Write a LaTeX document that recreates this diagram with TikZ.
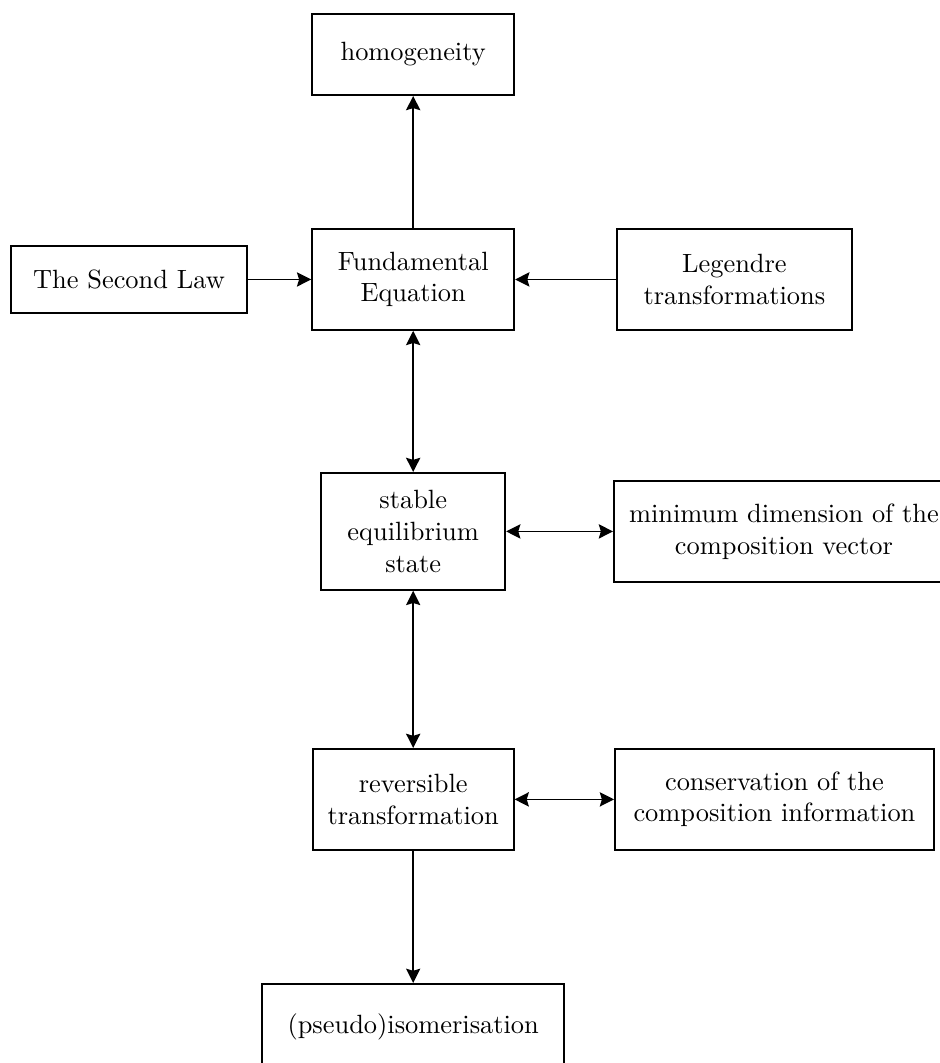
\documentclass[tikz,border=0pt]{standalone}
\usetikzlibrary{arrows.meta}

\begin{document}
\begin{tikzpicture}[
  box/.style={rectangle, draw=black, line width=0.7pt, align=center, inner sep=0pt},
  link/.style={line width=0.6pt, -{Stealth[length=5.4pt,width=5.4pt,inset=0.8pt]}},
  twoway/.style={line width=0.6pt, {Stealth[length=5.4pt,width=5.4pt,inset=0.8pt]}-{Stealth[length=5.4pt,width=5.4pt,inset=0.8pt]}}
]
\useasboundingbox (0,0) rectangle (12.51,-14.15);

% Middle column
\node[box, minimum width=2.69cm, minimum height=1.08cm] (hom) at (5.50,-0.725) {homogeneity};
\node[box, minimum width=2.69cm, minimum height=1.344cm] (fund) at (5.50,-3.72) {Fundamental\\Equation};
\node[box, minimum width=2.45cm, minimum height=1.557cm] (stable) at (5.50,-7.074) {stable\\equilibrium\\state};
\node[box, minimum width=2.675cm, minimum height=1.344cm] (rev) at (5.50,-10.641) {reversible\\transformation};
\node[box, minimum width=4.02cm, minimum height=1.145cm] (pseudo) at (5.50,-13.669) {(pseudo)isomerisation};

% Side nodes
\node[box, minimum width=3.141cm, minimum height=0.892cm] (second) at (1.717,-3.72) {The Second Law};
\node[box, minimum width=3.128cm, minimum height=1.344cm] (leg) at (9.776,-3.72) {Legendre\\transformations};
\node[box, minimum width=4.525cm, minimum height=1.344cm] (mindim) at (10.435,-7.074) {minimum dimension of the\\composition vector};
\node[box, minimum width=4.246cm, minimum height=1.344cm] (cons) at (10.309,-10.641) {conservation of the\\composition information};

% One-way connections
\foreach \a/\b in {fund/hom, second/fund, leg/fund, rev/pseudo}
\draw[link] (\a) -- (\b);

% Two-way connections
\foreach \a/\b in {fund/stable, stable/mindim, stable/rev, rev/cons}
\draw[twoway] (\a) -- (\b);

\end{tikzpicture}
\end{document}
